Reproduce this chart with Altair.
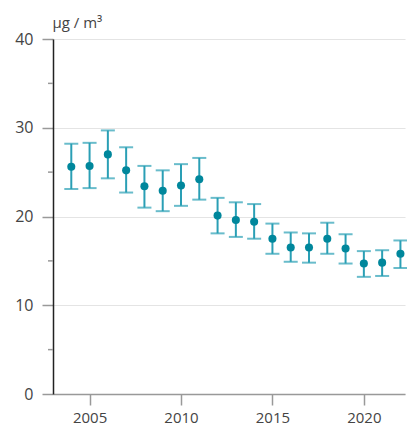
import altair as alt
import pandas as pd

years = list(range(2004, 2023))
mean = [25.6, 25.7, 27.0, 25.2, 23.4, 22.9, 23.5, 24.2, 20.1, 19.6, 19.4,
        17.5, 16.5, 16.5, 17.5, 16.4, 14.7, 14.8, 15.8]
upper = [28.2, 28.3, 29.7, 27.8, 25.7, 25.2, 25.9, 26.6, 22.1, 21.6, 21.4,
         19.2, 18.2, 18.1, 19.3, 18.0, 16.1, 16.2, 17.3]
lower = [23.1, 23.2, 24.3, 22.7, 21.0, 20.6, 21.2, 21.9, 18.1, 17.7, 17.5,
         15.8, 14.9, 14.8, 15.8, 14.7, 13.2, 13.3, 14.2]
minor_ticks = [5, 15, 25, 35]
x_ticks = [2005, 2010, 2015, 2020]
y_ticks = [0, 10, 20, 30, 40]

df = pd.DataFrame({"year": years, "mean": mean, "upper": upper, "lower": lower})
minor_df = pd.DataFrame({"v": minor_ticks})

FONT = "Open Sans"
BAR = "#2a9fb5"
DOT = "#00879c"

x_scale = alt.Scale(domain=[2003, 2022.25], nice=False, zero=False)
y_scale = alt.Scale(domain=[0, 40], nice=False)

x_enc = alt.X("year:Q", scale=x_scale, axis=alt.Axis(
    values=x_ticks, format="d", title=None, grid=False,
    tickSize=11, tickColor="#999999", tickWidth=1.5,
    domainColor="#999999", domainWidth=1.5,
    labelFont=FONT, labelFontSize=15, labelColor="#444444", labelPadding=5))

y_axis = alt.Axis(
    values=y_ticks, title="µg / m³", titleAngle=0, titleAlign="left",
    titleBaseline="alphabetic", titleX=-1, titleY=-12,
    titleFont=FONT, titleFontSize=15, titleFontWeight="normal", titleColor="#444444",
    grid=True, gridColor="#e4e4e4", gridWidth=1.2,
    tickSize=11, tickColor="#999999", tickWidth=1.5,
    domainColor="#222222", domainWidth=1.5,
    labelFont=FONT, labelFontSize=16, labelColor="#444444", labelPadding=9)

base = alt.Chart(df)

rules = base.mark_rule(color=BAR, strokeWidth=2).encode(
    x=x_enc,
    y=alt.Y("lower:Q", scale=y_scale, axis=y_axis),
    y2="upper:Q",
)
cap_hi = base.mark_tick(color=BAR, thickness=2, size=14, orient="horizontal").encode(
    x="year:Q", y="upper:Q")
cap_lo = base.mark_tick(color=BAR, thickness=2, size=14, orient="horizontal").encode(
    x="year:Q", y="lower:Q")
dots = base.mark_circle(color=DOT, size=65, opacity=1).encode(
    x="year:Q", y="mean:Q")

minor = alt.Chart(minor_df).mark_rule(color="#999999", strokeWidth=1.5).encode(
    y=alt.Y("v:Q", scale=y_scale),
    x=alt.value(-5), x2=alt.value(0))

chart = alt.layer(rules, cap_hi, cap_lo, dots, minor).properties(
    width=352, height=355,
    autosize=alt.AutoSizeParams(type="none"),
    padding={"left": 45, "top": 31, "right": 2, "bottom": 35},
).configure_view(stroke=None)

chart.save("out.html", embed_options={"renderer": "svg", "actions": False})
